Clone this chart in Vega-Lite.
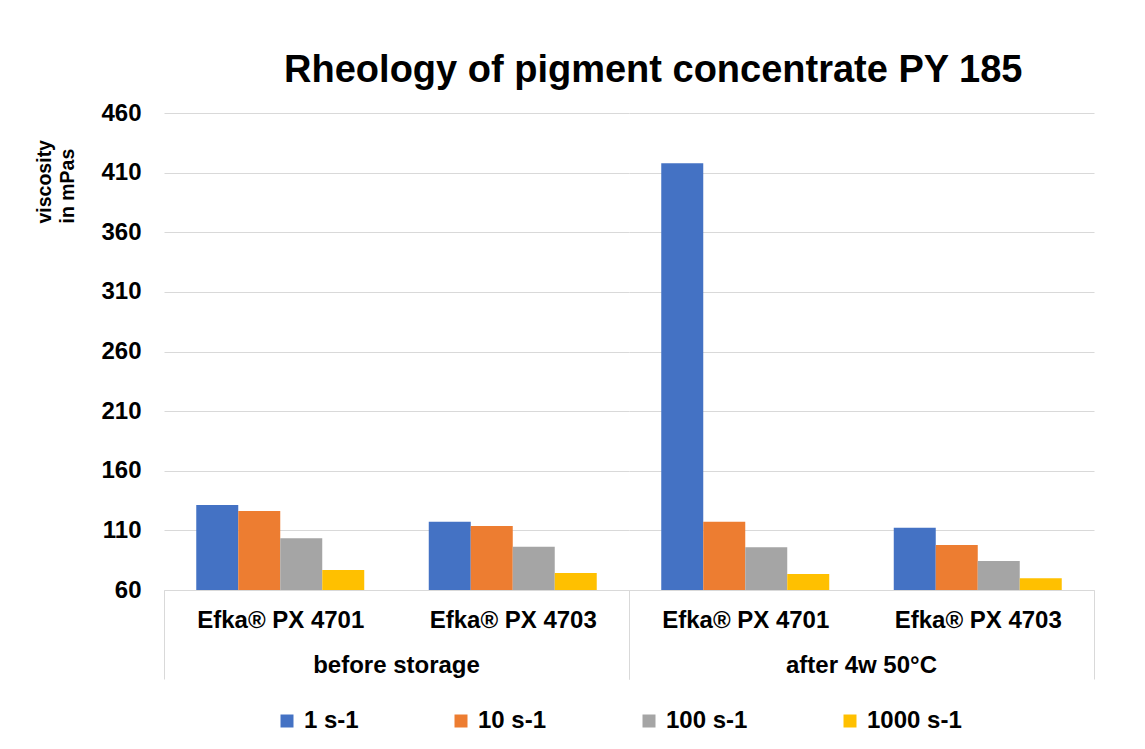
{
  "$schema": "https://vega.github.io/schema/vega-lite/v6.json",
  "padding": {"left": 34, "top": 52, "right": 52, "bottom": 5},
  "title": {"text": "Rheology of pigment concentrate PY 185", "fontSize": 38, "font": "Liberation Sans", "fontWeight": "bold", "anchor": "middle", "frame": "bounds", "dx": 89, "offset": 11, "color": "black"},
  "data": {"values": [
    {"storage": "before storage", "product": "Efka® PX 4701", "rate": "1 s-1", "viscosity": 131.3},
    {"storage": "before storage", "product": "Efka® PX 4701", "rate": "10 s-1", "viscosity": 126.2},
    {"storage": "before storage", "product": "Efka® PX 4701", "rate": "100 s-1", "viscosity": 103.4},
    {"storage": "before storage", "product": "Efka® PX 4701", "rate": "1000 s-1", "viscosity": 76.8},
    {"storage": "before storage", "product": "Efka® PX 4703", "rate": "1 s-1", "viscosity": 117.3},
    {"storage": "before storage", "product": "Efka® PX 4703", "rate": "10 s-1", "viscosity": 113.7},
    {"storage": "before storage", "product": "Efka® PX 4703", "rate": "100 s-1", "viscosity": 96.3},
    {"storage": "before storage", "product": "Efka® PX 4703", "rate": "1000 s-1", "viscosity": 74.3},
    {"storage": "after 4w 50°C", "product": "Efka® PX 4701", "rate": "1 s-1", "viscosity": 417.8},
    {"storage": "after 4w 50°C", "product": "Efka® PX 4701", "rate": "10 s-1", "viscosity": 117.3},
    {"storage": "after 4w 50°C", "product": "Efka® PX 4701", "rate": "100 s-1", "viscosity": 95.8},
    {"storage": "after 4w 50°C", "product": "Efka® PX 4701", "rate": "1000 s-1", "viscosity": 73.4},
    {"storage": "after 4w 50°C", "product": "Efka® PX 4703", "rate": "1 s-1", "viscosity": 112.2},
    {"storage": "after 4w 50°C", "product": "Efka® PX 4703", "rate": "10 s-1", "viscosity": 97.7},
    {"storage": "after 4w 50°C", "product": "Efka® PX 4703", "rate": "100 s-1", "viscosity": 84.3},
    {"storage": "after 4w 50°C", "product": "Efka® PX 4703", "rate": "1000 s-1", "viscosity": 69.8}
  ]},
  "facet": {
    "column": {
      "field": "storage", "type": "nominal",
      "sort": ["before storage", "after 4w 50°C"],
      "title": null,
      "header": {"labelOrient": "bottom", "labelFontSize": 24, "labelFont": "Liberation Sans", "labelFontWeight": "bold", "labelColor": "black", "labelPadding": -26}
    }
  },
  "spacing": 0,
  "spec": {
    "width": 465,
    "height": 477,
    "mark": {"type": "bar"},
    "encoding": {
      "x": {
        "field": "product", "type": "nominal",
        "sort": ["Efka® PX 4701", "Efka® PX 4703"],
        "scale": {"paddingInner": 0, "paddingOuter": 0},
        "axis": {
          "title": null, "labelAngle": 0, "tickBand": "extent", "tickSize": 89,
          "tickColor": "#d9d9d9", "tickWidth": 1, "domainColor": "#d9d9d9", "domainWidth": 1,
          "tickOpacity": {"condition": {"test": "datum.index === 0", "value": 0}, "value": 1},
          "labelPadding": -71, "labelFontSize": 24, "labelFont": "Liberation Sans", "labelFontWeight": "bold", "labelColor": "black"
        }
      },
      "xOffset": {
        "field": "rate", "type": "nominal",
        "sort": ["1 s-1", "10 s-1", "100 s-1", "1000 s-1"],
        "scale": {"paddingInner": 0, "paddingOuter": 0.768}
      },
      "y": {
        "field": "viscosity", "type": "quantitative",
        "scale": {"domain": [60, 460], "nice": false, "zero": false},
        "axis": {
          "values": [60, 110, 160, 210, 260, 310, 360, 410, 460],
          "title": ["viscosity", "in mPas"],
          "titleFontSize": 19.5, "titleFont": "Liberation Sans", "titleFontWeight": "bold", "titleColor": "black",
          "titleAngle": -90, "titleAlign": "left", "titleBaseline": "top", "titleX": -129, "titleY": 110, "titleLineHeight": 23,
          "labelFontSize": 24, "labelFont": "Liberation Sans", "labelFontWeight": "bold", "labelColor": "black", "labelPadding": 23,
          "ticks": false, "domain": false, "gridColor": "#d9d9d9", "gridWidth": 1
        }
      },
      "y2": {"datum": 60},
      "color": {
        "field": "rate", "type": "nominal",
        "sort": ["1 s-1", "10 s-1", "100 s-1", "1000 s-1"],
        "scale": {"domain": ["1 s-1", "10 s-1", "100 s-1", "1000 s-1"], "range": ["#4472C4", "#ED7D31", "#A5A5A5", "#FFC000"]},
        "legend": {
          "title": null, "orient": "none", "legendX": 111, "legendY": 596, "direction": "horizontal",
          "symbolType": "square", "symbolSize": 169, "symbolStrokeWidth": 0, "symbolOpacity": 1,
          "labelFontSize": 24, "labelFont": "Liberation Sans", "labelFontWeight": "bold", "labelColor": "black",
          "labelOffset": 5, "columnPadding": 90
        }
      }
    }
  },
  "config": {"view": {"stroke": null}, "font": "Liberation Sans"}
}
